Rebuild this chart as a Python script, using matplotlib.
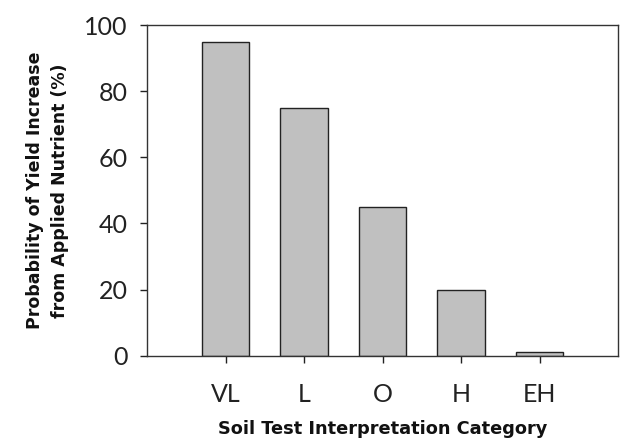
import numpy as np
import matplotlib.pyplot as plt

categories = ['VL', 'L', 'O', 'H', 'EH']
probability = [95, 75, 45, 20, 1]
y_ticks = [0, 20, 40, 60, 80, 100]

plt.rcParams['font.family'] = ['Lato', 'DejaVu Sans']

fig = plt.figure(figsize=(6.36, 4.48), dpi=100)
ax = fig.add_axes([147/636, 1 - 355.5/448, (618-147)/636, (355.5-25.5)/448])

x = np.arange(1, len(categories) + 1)
ax.bar(x, probability, width=0.6, color='#c0c0c0', edgecolor='#222222', linewidth=1.0)

ax.set_xlim(0, 6)
ax.set_ylim(0, 100)
ax.set_xticks(x)
ax.set_xticklabels(categories)
ax.set_yticks(y_ticks)
ax.tick_params(axis='both', direction='out', length=5, width=1, labelsize=18, colors='#222222')
ax.tick_params(axis='x', pad=15)
ax.tick_params(axis='y', pad=9)
for s in ax.spines.values():
    s.set_linewidth(1.0)
    s.set_color('#333333')

ax.set_xlabel('Soil Test Interpretation Category', labelpad=10, fontsize=12.8,
              fontweight='bold', family='DejaVu Sans', color='#111111')
ax.set_ylabel('Probability of Yield Increase\nfrom Applied Nutrient (%)', labelpad=11,
              linespacing=1.5, fontsize=12.5, fontweight='bold', family='DejaVu Sans', color='#111111')

fig.savefig('out.png', dpi=100)
